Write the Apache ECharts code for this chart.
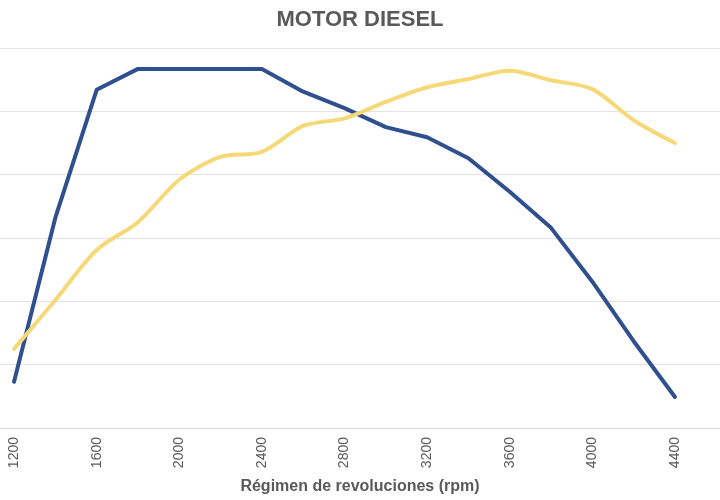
<!DOCTYPE html>
<html>
<head>
<meta charset="utf-8">
<script src="https://cdn.jsdelivr.net/npm/echarts@6/dist/echarts.min.js"></script>
<style>
  html, body { margin: 0; padding: 0; background: #fff; }
  #chart { width: 720px; height: 500px; }
</style>
</head>
<body>
<div id="chart"></div>
<script>
// regimen (rpm)
var rpm = [1200, 1400, 1600, 1800, 2000, 2200, 2400, 2600, 2800, 3000, 3200, 3400, 3600, 3800, 4000, 4200, 4400];
// curva azul
var serieAzul = [0.73, 3.32, 5.34, 5.67, 5.67, 5.67, 5.67, 5.31, 5.05, 4.75, 4.59, 4.26, 3.73, 3.16, 2.31, 1.37, 0.49];
// curva amarilla
var serieAmarilla = [1.25, 2.02, 2.81, 3.25, 3.92, 4.28, 4.36, 4.77, 4.89, 5.15, 5.38, 5.51, 5.64, 5.49, 5.35, 4.86, 4.50];
// etiquetas del eje x
var etiquetasX = [1200, 1600, 2000, 2400, 2800, 3200, 3600, 4000, 4400];

function pares(xs, ys) {
  var out = [];
  for (var i = 0; i < xs.length; i++) {
    out.push([xs[i], ys[i]]);
  }
  return out;
}

var myChart = echarts.init(document.getElementById('chart'));
var option = {
  animation: false,
  title: {
    text: 'MOTOR DIESEL',
    left: 'center',
    top: 4,
    textStyle: {
      fontFamily: 'Liberation Sans, Arial, sans-serif',
      fontSize: 22,
      fontWeight: 'bold',
      color: '#595959'
    }
  },
  grid: { left: 0, right: 0, top: 48, bottom: 72 },
  xAxis: {
    type: 'value',
    min: 1132,
    max: 4618,
    name: 'Régimen de revoluciones (rpm)',
    nameLocation: 'middle',
    nameGap: 51,
    nameTextStyle: {
      fontFamily: 'Liberation Sans, Arial, sans-serif',
      fontSize: 16,
      fontWeight: 'bold',
      color: '#595959'
    },
    axisLine: { show: true, lineStyle: { color: '#d9d9d9', width: 1 } },
    axisTick: { show: false },
    splitLine: { show: false },
    axisLabel: {
      customValues: etiquetasX,
      rotate: 90,
      margin: 9,
      color: '#595959',
      fontSize: 14,
      fontFamily: 'Liberation Sans, Arial, sans-serif',
      formatter: function (v) { return String(v); }
    }
  },
  yAxis: {
    type: 'value',
    min: 0,
    max: 6,
    interval: 1,
    axisLine: { show: false },
    axisTick: { show: false },
    axisLabel: { show: false },
    splitLine: { lineStyle: { color: '#e3e3e3', width: 1 } }
  },
  series: [
    {
      name: 'azul',
      type: 'line',
      data: pares(rpm, serieAzul),
      symbol: 'none',
      lineStyle: { color: '#2f4f8f', width: 4, cap: 'round', join: 'round' }
    },
    {
      name: 'amarilla',
      type: 'line',
      smooth: 0.3,
      data: pares(rpm, serieAmarilla),
      symbol: 'none',
      lineStyle: { color: '#f5d978', width: 4, cap: 'round' }
    }
  ]
};
myChart.setOption(option);
</script>
</body>
</html>
